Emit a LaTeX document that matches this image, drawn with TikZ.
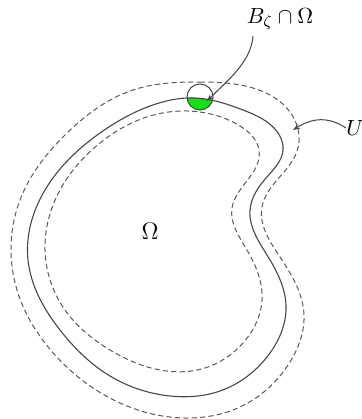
\documentclass[tikz,border=0pt]{standalone}
\usetikzlibrary{arrows.meta,hobby}
\definecolor{ballgreen}{RGB}{20,225,20}
\definecolor{linegray}{RGB}{70,70,70}
\tikzset{
  boundary/.style={draw=linegray, line width=0.55pt},
  nbhd/.style={draw=linegray!90, line width=0.5pt, dash pattern=on 2.6pt off 1.6pt},
  pointer/.style={draw=linegray, line width=0.5pt, -{Stealth[length=3.5pt,width=2.6pt]}},
  lbl/.style={inner sep=0pt, font=\fontsize{11}{13}\selectfont},
}
\begin{document}
\begin{tikzpicture}[x=0.5pt,y=-0.5pt]
\useasboundingbox (0,0) rectangle (362,419);
\def\solidpath{[closed hobby] plot coordinates {(195,98) (243,110) (272,126) (283,150) (266,178) (250,210) (267,255) (286,305) (267,357) (220,391) (170,396) (110,376) (60,330) (28,260) (45,190) (100,133) (150,106)}}
% green part of the ball inside Omega
\begin{scope}
  \clip (200,97) circle (13);
  \fill[ballgreen] \solidpath;
\end{scope}
% outer dashed
\draw[nbhd] [closed hobby] plot coordinates {(200,82) (253,88) (290,112) (298,148) (262,207) (280,257) (304,315) (290,362) (240,407) (185,418) (120,403) (55,355) (17,290) (20,200) (67,133) (133,90)};
% inner dashed
\draw[nbhd] [closed hobby] plot coordinates {(200,112) (240,126) (259,150) (232,208) (247,250) (262,300) (243,343) (205,368) (160,370) (110,350) (65,310) (45,250) (60,190) (100,143) (150,116)};
% boundary of Omega
\draw[boundary] \solidpath;
% ball
\node[draw=linegray, line width=0.5pt, circle, minimum size=13pt, inner sep=0pt] (ball) at (200,97) {};
% labels
\node[lbl] (Bl) at (280,19) {$B_\zeta\cap\Omega$};
\node[lbl] (Ul) at (355,128) {$U$};
\node[lbl, font=\fontsize{12}{14}\selectfont] (Om) at (150,231) {$\Omega$};
\coordinate (bs) at (253,36);
\coordinate (bt) at (207,101);
\coordinate (ut) at (293,130);
\draw[pointer] (bs) .. controls (251,62) and (228,80) .. (bt);
\draw[pointer] (Ul.west) .. controls (328,116) and (312,118) .. (ut);
\end{tikzpicture}
\end{document}
